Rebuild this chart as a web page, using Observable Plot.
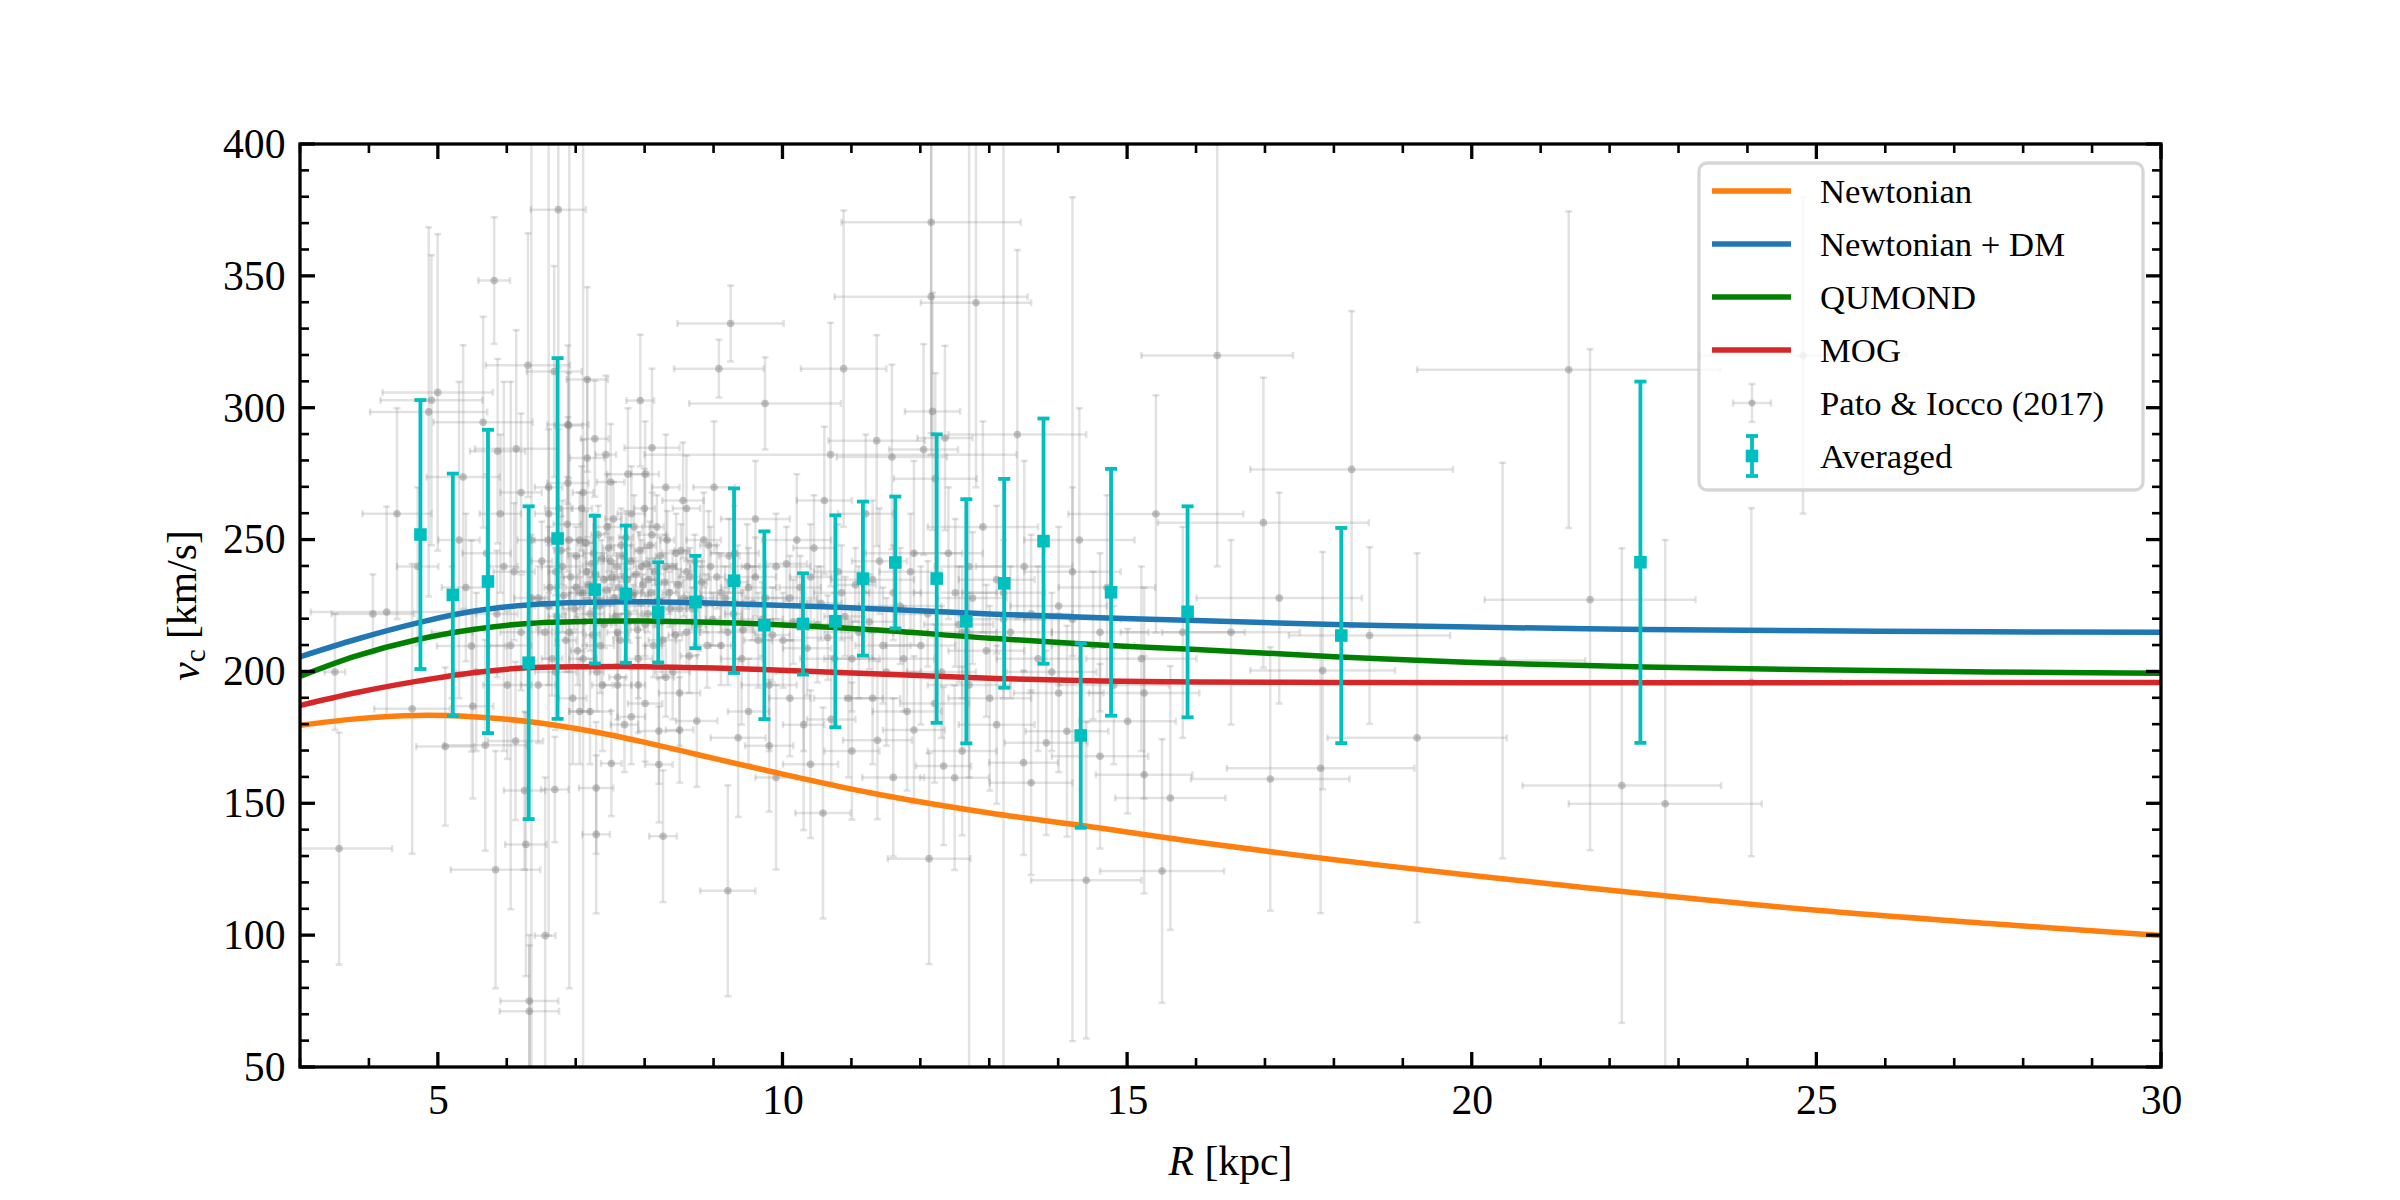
<!DOCTYPE html>
<html><head><meta charset="utf-8">
<script src="https://cdn.jsdelivr.net/npm/d3@7"></script>
<script src="https://cdn.jsdelivr.net/npm/@observablehq/plot@0.6"></script>
<style>body{margin:0;background:#fff;} #chart svg{display:block;}</style>
</head><body><div id="chart"></div>
<script>
// ---- model curves ----
const curveR = [3, 3.8, 4.7, 5.5, 6.3, 7.2, 8, 8.8, 9.7, 11.3, 13, 14.6, 16, 18, 20, 22.5, 25, 27.5, 30];
const vNewtonian = [179.8, 182.2, 183.5, 183.0, 181.2, 177.6, 173.3, 168.4, 163.0, 154.0, 146.5, 140.8, 135.5, 128.8, 122.8, 115.9, 109.6, 104.6, 100.0];
const vNewtonDM = [205.8, 212.3, 218.6, 223.0, 225.4, 226.4, 226.6, 226.2, 225.5, 224.0, 222.0, 220.5, 219.5, 218.0, 217.0, 216.1, 215.6, 215.2, 215.0];
const vQUMOND = [198.4, 206.0, 212.3, 216.1, 218.4, 219.2, 219.3, 218.9, 218.2, 216.0, 212.8, 210.2, 208.5, 205.8, 203.6, 201.9, 200.8, 200.0, 199.5];
const vMOG = [187.3, 192.1, 196.5, 199.7, 201.6, 202.0, 202.0, 201.6, 200.9, 199.3, 197.6, 196.6, 196.2, 196.0, 195.9, 195.9, 195.9, 196.0, 196.0];

// ---- averaged data ----
const avgR = [4.74, 5.21, 5.72, 6.31, 6.73, 7.27, 7.72, 8.19, 8.73, 9.29, 9.73, 10.29, 10.76, 11.16, 11.63, 12.23, 12.66, 13.21, 13.78, 14.32, 14.76, 15.87, 18.1, 22.44];
const avgV = [252.1, 229.2, 234.3, 203.5, 250.6, 231.2, 229.5, 222.6, 226.5, 234.6, 217.7, 218.2, 219.2, 235.4, 241.5, 235.4, 219.2, 233.6, 249.6, 175.9, 230.2, 222.8, 213.8, 241.6];
const avgErr = [51, 46, 57.5, 59.3, 68.4, 28, 26, 19, 17.5, 35, 35.6, 19.2, 40.2, 29.2, 25, 54.7, 46.3, 39.6, 46.5, 35, 46.8, 40, 40.8, 68.5];

// ---- Pato & Iocco (2017) compilation: [R, v, dR, dv] ----
const patoSparse = [
[3.56,133,0.77,44],[4.25,222.7,1.1,40],[4.62,186,0.55,55],[4.99,306,0.8,60],[4.9,303,0.74,55],[4.86,298.6,0.85,70],
[5.1,171.7,0.42,30],[3.5,200,0.15,22],[4.4,260,0.5,40],[4.7,240,0.3,30],[4.05,222,0.6,15],
[5.65,294.7,0.72,40],[5.81,348.4,0.23,24],[5.86,283.7,0.4,35],[5.36,273.9,0.53,50],[6.13,284.6,0.6,45],[6.3,316.3,0.61,50],
[5.48,209.8,0.5,40],[5.5,187,0.3,35],[5.68,172.2,0.6,40],[6.12,173.8,0.4,30],[5.83,125,0.65,45],[6.27,134.6,0.3,50],
[5.3,250,0.3,60],[5.95,240,0.2,70],[6.05,210,0.3,100],[6.32,75.2,0.42,25],[6.32,71.3,0.43,25],[6.55,100,0.15,60],[6.25,155,0.3,30],
[6.74,375.3,0.4,60],[6.68,313.9,0.4,40],[6.88,293.8,0.3,30],[6.88,271.6,0.3,25],[7.16,310.9,0.3,35],[7.16,281.1,0.25,30],
[6.89,293.4,0.2,20],[7.27,288.4,0.2,22],[7.43,282.4,0.15,30],[6.69,155.4,0.2,20],[7.29,156,0.25,25],[7.29,138.4,0.2,30],
[7.51,165.3,0.15,20],[6.6,225,0.2,30],[6.8,240,0.3,25],[6.9,215,0.2,15],[7.0,232,0.15,12],[7.05,250,0.2,18],[7.1,205,0.2,20],
[7.15,238,0.1,10],[7.2,222,0.2,14],[7.25,245,0.15,15],[7.3,228,0.1,8],[7.35,210,0.2,18],[7.4,235,0.15,10],[7.45,255,0.2,20],
[7.5,242,0.1,9],[6.95,190,0.2,25],[7.2,185,0.3,20],[6.7,200,0.3,22],[6.75,262,0.2,30],[7.38,195,0.15,25],
[7.55,228,0.1,10],[7.6,215,0.15,12],[7.65,248,0.15,14],[7.7,236,0.1,8],[7.75,222,0.2,10],[7.8,260,0.2,18],[7.85,230,0.1,7],
[7.9,205,0.2,15],[7.93,302.9,0.2,25],[7.95,240,0.12,10],[8.0,218,0.15,12],[8.05,235,0.1,8],[8.1,252,0.2,16],[8.15,226,0.1,9],
[8.2,177.6,0.3,20],[8.2,164.9,0.2,22],[8.26,137.7,0.2,25],[8.25,212,0.2,14],[8.3,240,0.15,12],[8.35,230,0.1,8],[8.4,200,0.25,18],
[8.45,245,0.2,15],[8.5,224,0.1,10],[8.55,265,0.3,22],[8.6,215,0.2,13],[8.65,236,0.15,11],[8.75,181.4,0.3,25],[8.8,228,0.2,12],
[8.85,250,0.25,18],[8.9,210,0.2,16],[8.95,240,0.3,15],[7.6,195,0.2,20],[7.75,275,0.3,25],[8.0,188,0.25,22],[8.3,270,0.2,20],
[7.7,180,0.2,18],[8.5,192,0.3,20],[8.1,285,0.4,30],
[9.24,332.1,0.77,14.4],[9.07,315,0.65,11],[9.74,301.8,1.1,17.5],[10.88,315,0.62,60],[9.1,230,0.3,15],[9.2,215,0.4,20],
[9.3,245,0.35,18],[9.4,205,0.3,25],[9.5,232,0.4,15],[9.6,258,0.5,22],[9.7,220,0.3,14],[9.8,195,0.4,25],[9.9,240,0.5,20],
[10.0,212,0.3,18],[10.1,228,0.4,16],[10.2,250,0.5,25],[10.3,200,0.4,30],[10.4,236,0.3,20],[10.5,218,0.5,22],[10.58,146.5,0.4,40],
[10.6,265,0.4,28],[10.69,282.4,2.7,50],[10.75,205,0.5,25],[10.85,230,0.4,18],[10.95,190,0.5,30],[9.35,175,0.4,30],[9.9,160,0.3,35],
[9.2,117,0.4,40],[10.3,180,0.3,40],[9.0,270,0.3,25],
[11.36,287.7,0.7,40],[11.58,281.5,0.8,35],[12.15,370.5,1.3,80],[12.15,342.3,1.4,60],[12.17,298.8,0.4,45],[12.04,284.3,0.5,40],
[12.35,288.7,0.4,35],[12.21,273.3,0.6,40],[11.37,174.1,0.5,30],[12.12,129.2,0.6,40],[12.49,159.9,0.5,35],[12.33,164.3,0.4,30],
[11.1,215,0.5,25],[11.3,235,0.6,30],[11.5,200,0.5,28],[11.7,225,0.6,22],[11.9,245,0.7,35],[12.0,210,0.5,30],[12.5,230,0.6,28],
[12.7,195,0.6,35],[12.9,255,0.8,40],[11.8,185,0.5,30],[12.6,215,0.5,25],[11.2,260,0.4,30],[12.8,340,0.8,70],
[13.49,165.6,0.5,35],[14.12,177.5,0.6,40],[13.82,173.1,0.6,35],[15.24,192,0.8,40],[15.24,161,0.7,45],[15.0,181.3,0.7,35],
[15.62,152.2,0.8,50],[15.5,124.5,0.9,50],[13.2,220,0.6,30],[13.5,240,0.7,40],[13.7,205,0.6,35],[14.0,225,0.7,30],[14.3,250,0.8,50],
[14.5,210,0.6,28],[14.7,232,0.7,35],[15.41,259.9,1.27,45],[15.8,215,0.9,40],[13.4,290,1.0,70],[14.4,121,0.8,60],[13.0,190,0.6,35],
[14.8,195,0.8,30],
[16.97,256.6,1.53,55],[18.25,276.8,1.47,60],[21.71,227.4,1.53,95],[22.17,156.9,1.44,90],[17.8,163.5,1.36,55],[17.07,159.4,1.15,50],
[20.44,204.3,1.2,75],[18.51,213.8,1.17,33.5],[17.83,200.5,1.05,45],[24.05,196.1,1.3,66],[21.4,314.6,2.2,60],[16.5,215,1.0,35],
[17.2,228,1.2,40],[19.2,175,1.3,70],[24.8,320,1.5,60],[16.3,320,1.1,80],[22.8,150,1.4,100]
];
// dense solar-neighbourhood cluster and long-bar tracers
const patoDense = [
[6.45,228,0.1,12],[6.5,242,0.15,15],[6.55,215,0.1,10],[6.6,250,0.2,20],[6.62,232,0.08,8],[6.65,205,0.15,14],[6.7,238,0.1,9],[6.72,221,0.12,11],
[6.78,246,0.1,13],[6.82,229,0.08,7],[6.85,212,0.15,12],[6.87,256,0.2,18],[6.92,236,0.1,9],[6.97,224,0.08,8],[7.0,244,0.12,11],[7.02,208,0.1,13],
[7.06,230,0.06,6],[7.08,262,0.15,16],[7.12,219,0.1,9],[7.14,249,0.12,12],[7.18,233,0.06,6],[7.22,241,0.08,8],[7.24,214,0.1,10],[7.28,237,0.05,5],
[7.32,252,0.1,11],[7.34,225,0.06,6],[7.37,243,0.08,7],[7.41,218,0.1,9],[7.44,231,0.05,5],[7.47,247,0.08,9],[7.49,226,0.06,6],[7.52,236,0.05,5],
[7.54,258,0.12,14],[7.57,221,0.08,8],[7.59,240,0.05,5],[7.62,232,0.05,4],[7.64,212,0.1,10],[7.67,244,0.07,7],[7.69,227,0.05,5],[7.72,251,0.1,10],
[7.74,235,0.04,4],[7.77,219,0.08,8],[7.79,242,0.05,6],[7.82,229,0.04,4],[7.84,255,0.12,12],[7.87,237,0.05,5],[7.89,216,0.1,10],[7.92,246,0.07,7],
[7.94,226,0.05,5],[7.97,233,0.04,4],[7.99,262,0.15,15],[8.02,241,0.06,6],[8.04,222,0.07,7],[8.07,248,0.08,9],[8.09,230,0.05,5],[8.12,210,0.12,12],
[8.14,238,0.05,5],[8.17,255,0.1,12],[8.19,227,0.06,6],[8.22,244,0.07,7],[8.24,219,0.08,9],[8.28,234,0.05,5],[8.32,250,0.1,11],[8.36,224,0.07,7],
[8.4,240,0.06,6],[8.44,214,0.1,12],[8.48,233,0.06,6],[8.52,246,0.1,10],[8.56,228,0.07,7],[8.6,238,0.08,8],[8.64,206,0.12,14],[8.68,224,0.08,8],
[8.72,242,0.1,10],[8.78,218,0.1,10],[8.82,234,0.08,8],[8.88,226,0.1,11],[8.92,248,0.12,13],[8.98,220,0.1,10],[9.04,236,0.12,12],[9.1,210,0.15,15],
[9.16,228,0.12,12],[9.22,244,0.15,14],[9.28,222,0.12,12],[9.34,234,0.15,14],[9.42,216,0.15,15],[9.48,240,0.18,16],[9.56,226,0.15,14],[9.64,212,0.2,18],
[7.3,200,0.1,15],[7.6,198,0.12,16],[7.9,195,0.1,18],[8.3,198,0.12,15],[7.1,268,0.15,20],[7.5,272,0.2,22],[8.0,275,0.2,20],[8.6,262,0.2,20],
[7.05,185,0.15,20],[7.8,183,0.2,18],[8.5,178,0.2,20],[6.6,270,0.2,22],
[6.6,260,0.2,160],[6.9,250,0.25,170],[7.1,230,0.2,180],[12.7,240,0.5,200],[13.2,230,0.6,190],[14.2,220,0.7,160],[6.35,250,0.2,200]
];
const patoOuterDisk = [
[9.6,236,0.3,15],[9.75,228,0.3,12],[9.85,214,0.25,18],[10.05,241,0.3,14],[10.15,219,0.3,16],[10.25,232,0.3,12],[10.35,209,0.35,18],[10.45,247,0.3,20],
[10.55,226,0.3,14],[10.65,213,0.35,16],[10.8,238,0.35,18],[10.9,221,0.3,15],[11.0,205,0.4,20],[11.05,233,0.3,14],[11.25,219,0.4,18],[11.4,242,0.4,20],
[11.45,210,0.4,22],[11.6,230,0.4,18],[11.75,205,0.45,20],[11.85,238,0.45,22],[12.1,222,0.45,20],[12.3,200,0.5,25],[12.4,245,0.5,25],[12.55,218,0.5,22],
[12.75,228,0.5,25],[12.95,208,0.55,25],[13.1,235,0.55,28],[13.3,215,0.6,25],[13.6,222,0.6,30],[13.9,200,0.65,30],[14.2,238,0.7,32],[14.6,215,0.7,30],
[9.5,185,0.3,20],[9.8,172,0.35,25],[10.1,190,0.3,22],[10.4,165,0.4,28],[10.7,182,0.35,24],[11.0,170,0.4,26],[11.3,190,0.4,25],[11.6,160,0.45,30],
[11.9,178,0.45,28],[12.2,188,0.5,30],[12.6,170,0.5,32],[13.1,180,0.55,30],[13.6,158,0.6,35],[14.0,192,0.65,30],[14.6,168,0.7,35],[15.2,205,0.8,35],
[5.2,215,0.3,25],[5.4,232,0.35,28],[5.55,200,0.3,30],[5.7,245,0.35,30],[5.85,222,0.3,24],[6.0,195,0.35,28],[6.1,238,0.3,26],[6.2,215,0.3,22],
[6.35,228,0.25,24],[6.45,195,0.25,22],[5.9,260,0.3,30],[6.2,268,0.3,30]
];

const xTicks = [5, 10, 15, 20, 25, 30];
const yTicks = [50, 100, 150, 200, 250, 300, 350, 400];
const xMinorTicks = d3.range(3, 31, 1);
const yMinorTicks = d3.range(50, 401, 10);
const legendLabels = ["Newtonian", "Newtonian + DM", "QUMOND", "MOG", "Pato & Iocco (2017)", "Averaged"];
const lineColors = ["#ff7f0e", "#1f77b4", "#008000", "#d62728"];
const cyan = "#00bfbf";
const FONT = "'Liberation Serif', 'Times New Roman', serif";

// ---- tables ----
const models = [vNewtonian, vNewtonDM, vQUMOND, vMOG].map((vs, k) => curveR.map((R, i) => ({R, v: vs[i], k})));
const patoData = [...patoSparse, ...patoDense, ...patoOuterDisk].map(([R, v, dR, dv]) => ({R, v, dR, dv}));
const patoVCaps = patoData.flatMap(d => [{R: d.R, v: d.v - d.dv}, {R: d.R, v: d.v + d.dv}]);
const patoHCaps = patoData.flatMap(d => [{R: d.R - d.dR, v: d.v}, {R: d.R + d.dR, v: d.v}]);
const avgData = avgR.map((R, i) => ({R, v: avgV[i], e: avgErr[i]}));
const avgCaps = avgData.flatMap(d => [{R: d.R, v: d.v - d.e}, {R: d.R, v: d.v + d.e}]);

const hCap = {draw(ctx, size) { const r = Math.sqrt(size / Math.PI); ctx.moveTo(-r, 0); ctx.lineTo(r, 0); }};
const vCap = {draw(ctx, size) { const r = Math.sqrt(size / Math.PI); ctx.moveTo(0, -r); ctx.lineTo(0, r); }};

const gray = "#808080", gOp = 0.23;

function decorations(index, scales, values, dim) {
  const {x, y} = scales;
  const L = dim.marginLeft, R = dim.width - dim.marginRight, T = dim.marginTop, B = dim.height - dim.marginBottom;
  const g = d3.create("svg:g").attr("text-anchor", "start");
  const tk = g.append("g").attr("stroke", "black").attr("fill", "none");
  const addTick = (x1, y1, x2, y2, w) => tk.append("line").attr("x1", x1).attr("y1", y1).attr("x2", x2).attr("y2", y2).attr("stroke-width", w);
  xMinorTicks.forEach(t => { const px = x(t), major = xTicks.includes(t), len = major ? 15 : 9, w = major ? 3.3 : 2.6;
    addTick(px, B, px, B - len, w); addTick(px, T, px, T + len, w); });
  yMinorTicks.forEach(t => { const py = y(t), major = yTicks.includes(t), len = major ? 15 : 9, w = major ? 3.3 : 2.6;
    addTick(L, py, L + len, py, w); addTick(R, py, R - len, py, w); });
  tk.append("rect").attr("x", L).attr("y", T).attr("width", R - L).attr("height", B - T).attr("stroke-width", 3.3);

  // axis labels
  const xl = g.append("text").attr("x", (L + R) / 2).attr("y", B + 108).attr("text-anchor", "middle")
    .attr("font-size", 41.7).attr("font-family", FONT).attr("fill", "black");
  xl.append("tspan").attr("font-style", "italic").text("R");
  xl.append("tspan").text(" [kpc]");
  const yl = g.append("text").attr("transform", `translate(${L - 101},${(T + B) / 2}) rotate(-90)`).attr("text-anchor", "middle")
    .attr("font-size", 41.7).attr("font-family", FONT).attr("fill", "black");
  yl.append("tspan").attr("font-style", "italic").text("v");
  yl.append("tspan").attr("font-size", 29).attr("dy", "0.22em").text("c");
  yl.append("tspan").attr("dy", "-0.22em").text(" [km/s]");

  // legend
  const lg = g.append("g");
  const lx = R - 462, ly = T + 19;
  lg.append("rect").attr("x", lx).attr("y", ly).attr("width", 444).attr("height", 327).attr("rx", 8)
    .attr("fill", "white").attr("fill-opacity", 0.8).attr("stroke", "#cccccc").attr("stroke-opacity", 0.8).attr("stroke-width", 3.3);
  const rowY = k => ly + 28 + k * 53;
  lineColors.forEach((c, k) => lg.append("line").attr("x1", lx + 13).attr("x2", lx + 92).attr("y1", rowY(k)).attr("y2", rowY(k))
    .attr("stroke", c).attr("stroke-width", 5.5));
  const hx = lx + 53;
  const py = rowY(4);
  const ph = lg.append("g").attr("stroke", gray).attr("stroke-opacity", gOp).attr("stroke-width", 2.5);
  ph.append("line").attr("x1", hx).attr("x2", hx).attr("y1", py - 19).attr("y2", py + 19);
  ph.append("line").attr("x1", hx - 19).attr("x2", hx + 19).attr("y1", py).attr("y2", py);
  ph.append("line").attr("x1", hx - 3.5).attr("x2", hx + 3.5).attr("y1", py - 19).attr("y2", py - 19);
  ph.append("line").attr("x1", hx - 3.5).attr("x2", hx + 3.5).attr("y1", py + 19).attr("y2", py + 19);
  ph.append("line").attr("x1", hx - 19).attr("x2", hx - 19).attr("y1", py - 3.5).attr("y2", py + 3.5);
  ph.append("line").attr("x1", hx + 19).attr("x2", hx + 19).attr("y1", py - 3.5).attr("y2", py + 3.5);
  lg.append("circle").attr("cx", hx).attr("cy", py).attr("r", 3.5).attr("fill", gray).attr("fill-opacity", 0.45);
  const ay = rowY(5);
  const ah = lg.append("g").attr("stroke", cyan).attr("stroke-width", 3.8);
  ah.append("line").attr("x1", hx).attr("x2", hx).attr("y1", ay - 20).attr("y2", ay + 20);
  ah.append("line").attr("x1", hx - 6).attr("x2", hx + 6).attr("y1", ay - 20).attr("y2", ay - 20);
  ah.append("line").attr("x1", hx - 6).attr("x2", hx + 6).attr("y1", ay + 20).attr("y2", ay + 20);
  lg.append("rect").attr("x", hx - 6.3).attr("y", ay - 6.3).attr("width", 12.6).attr("height", 12.6).attr("fill", cyan);
  legendLabels.forEach((t, k) => lg.append("text").attr("x", lx + 121).attr("y", rowY(k) + 12).attr("text-anchor", "start")
    .attr("font-size", 34.7).attr("font-family", FONT).attr("fill", "black").text(t));
  return g.node();
}

const chart = Plot.plot({
  width: 2400, height: 1200,
  marginLeft: 300, marginRight: 239, marginTop: 144, marginBottom: 133,
  style: {fontFamily: FONT, fontSize: "41.7px", color: "black", background: "white"},
  x: {domain: [3, 30]},
  y: {domain: [50, 400]},
  marks: [
    Plot.ruleX(patoData, {x: "R", y1: d => d.v - d.dv, y2: d => d.v + d.dv, stroke: gray, strokeOpacity: gOp, strokeWidth: 2.5, clip: true}),
    Plot.ruleY(patoData, {y: "v", x1: d => d.R - d.dR, x2: d => d.R + d.dR, stroke: gray, strokeOpacity: gOp, strokeWidth: 2.5, clip: true}),
    Plot.dot(patoVCaps, {x: "R", y: "v", symbol: hCap, r: 3.5, fill: "none", stroke: gray, strokeOpacity: gOp, strokeWidth: 2.5, clip: true}),
    Plot.dot(patoHCaps, {x: "R", y: "v", symbol: vCap, r: 3.5, fill: "none", stroke: gray, strokeOpacity: gOp, strokeWidth: 2.5, clip: true}),
    Plot.dot(patoData, {x: "R", y: "v", r: 3.8, fill: gray, fillOpacity: 0.45, clip: true}),
    ...models.map((rows, k) => Plot.line(rows, {x: "R", y: "v", stroke: lineColors[k], strokeWidth: 5.5, curve: "catmull-rom", clip: true})),
    Plot.ruleX(avgData, {x: "R", y1: d => d.v - d.e, y2: d => d.v + d.e, stroke: cyan, strokeWidth: 3.8, clip: true}),
    Plot.dot(avgCaps, {x: "R", y: "v", symbol: hCap, r: 6, fill: "none", stroke: cyan, strokeWidth: 3.8, clip: true}),
    Plot.dot(avgData, {x: "R", y: "v", symbol: "square", r: 7.1, fill: cyan, stroke: "none"}),
    Plot.axisX({ticks: xTicks, tickSize: 0, tickPadding: 17, label: null, tickFormat: d => String(d)}),
    Plot.axisY({ticks: yTicks, tickSize: 0, tickPadding: 15, label: null, tickFormat: d => String(d)}),
    decorations
  ]
});
document.getElementById("chart").appendChild(chart);
</script>
</body></html>
